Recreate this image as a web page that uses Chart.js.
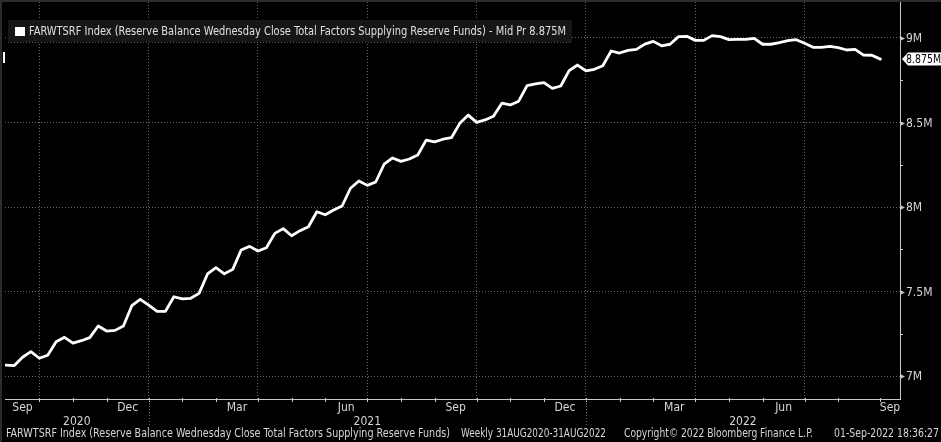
<!DOCTYPE html>
<html><head><meta charset="utf-8">
<script src="https://cdn.jsdelivr.net/npm/chart.js@4.4.0/dist/chart.umd.min.js"></script>
<style>html,body{margin:0;padding:0;background:#000;overflow:hidden}#wrap{width:941px;height:442px}</style>
</head><body><div id="wrap"><canvas id="c" width="941" height="442"></canvas></div>
<script>
// ---------- data ----------
const seriesName = 'FARWTSRF Index (Reserve Balance Wednesday Close Total Factors Supplying Reserve Funds)';
const firstWeekDate = '2020-09-02';   // weekly Wednesday closes
const reserveFundsM = [
  7.065, 7.061, 7.111, 7.144, 7.105, 7.123, 7.203, 7.229, 7.195, 7.209,
  7.227, 7.296, 7.266, 7.270, 7.296, 7.416, 7.454, 7.420, 7.383, 7.383,
  7.469, 7.456, 7.460, 7.489, 7.604, 7.641, 7.605, 7.631, 7.746, 7.767,
  7.740, 7.759, 7.844, 7.872, 7.830, 7.860, 7.883, 7.972, 7.954, 7.982,
  8.006, 8.111, 8.154, 8.128, 8.148, 8.253, 8.290, 8.270, 8.284, 8.308,
  8.396, 8.385, 8.401, 8.410, 8.495, 8.544, 8.501, 8.515, 8.537, 8.614,
  8.604, 8.626, 8.718, 8.728, 8.736, 8.702, 8.716, 8.807, 8.840, 8.805,
  8.815, 8.836, 8.923, 8.911, 8.927, 8.933, 8.964, 8.980, 8.954, 8.963,
  9.008, 9.010, 8.986, 8.986, 9.014, 9.008, 8.990, 8.992, 8.992, 8.998,
  8.963, 8.963, 8.972, 8.984, 8.990, 8.969, 8.945, 8.945, 8.951, 8.943,
  8.929, 8.933, 8.899, 8.898, 8.875
];
const yTickValues = [7, 7.5, 8, 8.5, 9];
const yTickLabels = ['7M', '7.5M', '8M', '8.5M', '9M'];
const yMinorTickValues = [7.25, 7.75, 8.25, 8.75];
const monthTickKeys = ['2020-09','2020-12','2021-03','2021-06','2021-09','2021-12','2022-03','2022-06','2022-09'];
const monthTickLabels = ['Sep','Dec','Mar','Jun','Sep','Dec','Mar','Jun','Sep'];
const yearLabels = ['2020','2021','2022'];
const legendText = seriesName + ' - Mid Pr 8.875M';
const lastValueLabel = '8.875M';
const footerParts = [seriesName, 'Weekly 31AUG2020-31AUG2022', 'Copyright\u00A9 2022 Bloomberg Finance L.P.', '01-Sep-2022 18:36:27'];

// ---------- categories (weekly dates) ----------
const DAY = 86400000;
const t0 = Date.parse(firstWeekDate + 'T00:00:00Z');
const weekDates = reserveFundsM.map((_, i) => new Date(t0 + i * 7 * DAY));
const mKey = d => d.getUTCFullYear() + '-' + String(d.getUTCMonth() + 1).padStart(2, '0');
const monthEnds = []; // {key, idx}
weekDates.forEach((d, i) => {
  if (i === weekDates.length - 1 || mKey(weekDates[i + 1]) !== mKey(d)) monthEnds.push({ key: mKey(d), idx: i, m: d.getUTCMonth() + 1 });
});
const quarterGrid = monthEnds.filter(e => e.m % 3 === 0).map(e => e.idx);
const yearGrid = monthEnds.filter(e => e.m === 12).map(e => e.idx);

const X_MIN = -0.08, X_MAX = 106.34, Y_MIN = 6.864, Y_MAX = 9.213;
const FONT = '"Liberation Sans Narrow","DejaVu Sans Condensed","Arial Narrow","Liberation Sans",sans-serif';
const TXT = '#d6d6d6';

function drawText(ctx, text, x, y, size, opts = {}) {
  ctx.font = size + 'px ' + FONT;
  const m = ctx.measureText(text).width;
  const s = opts.width ? opts.width / m : (opts.sx || 1);
  const w = m * s;
  let x0 = x;
  if (opts.align === 'center') x0 = x - w / 2; else if (opts.align === 'right') x0 = x - w;
  ctx.save();
  ctx.fillStyle = opts.color || TXT;
  ctx.textAlign = 'left'; ctx.textBaseline = 'middle';
  ctx.translate(x0, y); ctx.scale(s, 1); ctx.fillText(text, 0, 0);
  ctx.restore();
  return w;
}

const overlay = {
  id: 'overlay',
  afterDraw(chart) {
    const { ctx, chartArea: ca, scales: { x, y } } = chart;
    ctx.save();
    // frame
    ctx.fillStyle = '#2c2c2c';
    ctx.fillRect(0, 0, 941, 2); ctx.fillRect(0, 0, 2, 442);
    // small white marker on the left
    ctx.fillStyle = '#ffffff'; ctx.fillRect(3, 52, 2, 11);

    // x month ticks
    ctx.strokeStyle = '#c8c8c8'; ctx.lineWidth = 1;
    monthEnds.forEach(e => {
      const px = Math.round(x.getPixelForValue(e.idx)) + 0.5;
      ctx.beginPath(); ctx.moveTo(px, ca.bottom - 1); ctx.lineTo(px, ca.bottom + 3); ctx.stroke();
    });
    // year separators below axis
    ctx.strokeStyle = '#6e6e6e'; ctx.setLineDash([1, 2]);
    yearGrid.forEach(i => {
      const px = Math.round(x.getPixelForValue(i)) + 0.5;
      ctx.beginPath(); ctx.moveTo(px, ca.bottom + 1); ctx.lineTo(px, ca.bottom + 26); ctx.stroke();
    });
    ctx.setLineDash([]);

    // month labels
    monthTickKeys.forEach((k, j) => {
      const endE = monthEnds.find(e => e.key === k);
      const prevIdx = monthEnds.findIndex(e => e.key === k);
      let a, b;
      if (endE) {
        b = endE.idx;
        a = prevIdx > 0 ? monthEnds[prevIdx - 1].idx : 0;
      } else { a = monthEnds[monthEnds.length - 1].idx; b = X_MAX; }
      let cx = (x.getPixelForValue(a) + x.getPixelForValue(b)) / 2;
      cx = Math.min(cx, ca.right - 10);
      drawText(ctx, monthTickLabels[j], cx, 407.5, 12, { align: 'center' });
    });
    // year labels
    const ybounds = [X_MIN, ...yearGrid, X_MAX];
    yearLabels.forEach((lab, j) => {
      const cx = (x.getPixelForValue(ybounds[j]) + x.getPixelForValue(ybounds[j + 1])) / 2;
      drawText(ctx, lab, cx, 421.5, 12, { align: 'center' });
    });

    // y ticks & labels
    ctx.fillStyle = '#c8c8c8'; ctx.strokeStyle = '#c8c8c8';
    yTickValues.forEach((v, j) => {
      const py = Math.round(y.getPixelForValue(v)) + 0.5;
      ctx.beginPath(); ctx.moveTo(ca.right, py - 2.5); ctx.lineTo(ca.right + 5, py); ctx.lineTo(ca.right, py + 2.5); ctx.closePath(); ctx.fill();
      drawText(ctx, yTickLabels[j], ca.right + 6, py, 12);
    });
    yMinorTickValues.forEach(v => {
      const py = Math.round(y.getPixelForValue(v)) + 0.5;
      ctx.strokeStyle = '#c8c8c8';
      ctx.beginPath(); ctx.moveTo(ca.right, py); ctx.lineTo(ca.right + 3, py); ctx.stroke();
    });

    // last value tag
    const lv = reserveFundsM[reserveFundsM.length - 1];
    const ly = y.getPixelForValue(lv);
    ctx.fillStyle = '#ffffff';
    ctx.beginPath();
    ctx.moveTo(ca.right + 2, ly); ctx.lineTo(ca.right + 8, ly - 6.5); ctx.lineTo(941, ly - 6.5);
    ctx.lineTo(941, ly + 6.5); ctx.lineTo(ca.right + 8, ly + 6.5); ctx.closePath(); ctx.fill();
    drawText(ctx, lastValueLabel, ca.right + 6, ly + 0.5, 12, { color: '#000000', width: 35 });

    // legend box
    ctx.fillStyle = '#161616';
    ctx.fillRect(8, 20, 564, 22);
    ctx.strokeStyle = '#5a5a5a'; ctx.setLineDash([1, 2]);
    ctx.beginPath(); ctx.moveTo(8, 42.5); ctx.lineTo(572, 42.5); ctx.stroke();
    ctx.setLineDash([]);
    ctx.fillStyle = '#ffffff'; ctx.fillRect(15, 27, 10, 9);
    drawText(ctx, legendText, 29, 31.5, 12, { width: 537, color: '#e0e0e0' });

    // footer
    const fy = 434;
    drawText(ctx, footerParts[0], 6, fy, 12, { width: 444 });
    drawText(ctx, footerParts[1], 461, fy, 12, { width: 145 });
    drawText(ctx, footerParts[2], 624, fy, 12, { width: 189 });
    drawText(ctx, footerParts[3], 834, fy, 12, { width: 105 });
    ctx.restore();
  }
};

const GRID = '#666666';
new Chart(document.getElementById('c'), {
  type: 'line',
  data: {
    datasets: [{
      data: reserveFundsM.map((v, i) => ({ x: i, y: v })),
      borderColor: '#ffffff', borderWidth: 2.8, pointRadius: 0, tension: 0, fill: false,
      borderJoinStyle: 'round', borderCapStyle: 'round'
    }]
  },
  options: {
    responsive: false, animation: false, devicePixelRatio: 1,
    layout: { padding: { left: 5, top: 2, right: 0, bottom: 0 } },
    plugins: { legend: { display: false }, tooltip: { enabled: false } },
    scales: {
      x: {
        type: 'linear', min: X_MIN, max: X_MAX, position: 'bottom',
        afterBuildTicks: s => { s.ticks = quarterGrid.map(v => ({ value: v })); },
        ticks: { display: false },
        grid: { color: GRID, lineWidth: 1, drawTicks: false },
        border: { display: true, color: '#c8c8c8', width: 1, dash: [1, 2] },
        afterFit: s => { s.height = 43; }
      },
      y: {
        type: 'linear', position: 'right', min: Y_MIN, max: Y_MAX,
        afterBuildTicks: s => { s.ticks = yTickValues.map(v => ({ value: v })); },
        ticks: { display: false },
        grid: { color: GRID, lineWidth: 1, drawTicks: false },
        border: { display: true, color: '#c8c8c8', width: 1, dash: [1, 2] },
        afterFit: s => { s.width = 41; }
      }
    }
  },
  plugins: [overlay]
});
</script></body></html>
